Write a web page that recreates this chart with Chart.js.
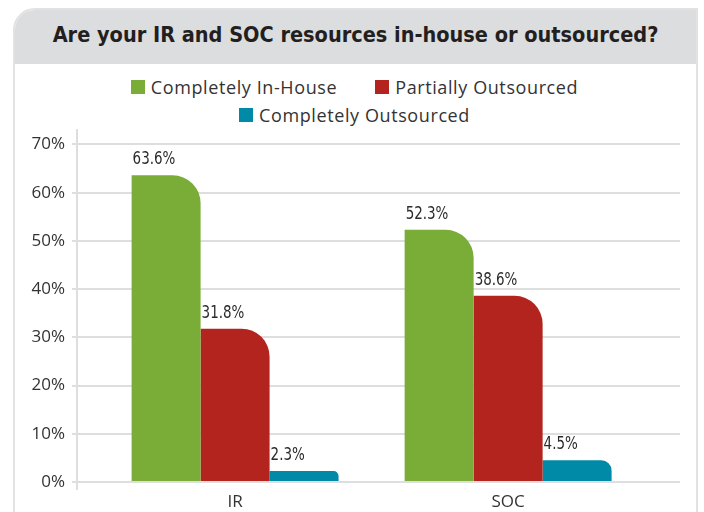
<!DOCTYPE html>
<html>
<head>
<meta charset="utf-8">
<script src="https://cdn.jsdelivr.net/npm/chart.js@4/dist/chart.umd.min.js"></script>
<style>
  html, body { margin: 0; padding: 0; background: #ffffff; }
  body { width: 704px; height: 512px; position: relative; overflow: hidden; }
  .card {
    position: absolute; left: 13px; top: 8px; width: 681px; height: 540px;
    border: 2px solid #e2e2e2; border-top-left-radius: 22px; background: #fff;
    overflow: hidden;
  }
  .card-title {
    height: 54px; background: #dcdddf; color: #231f20;
    font-family: "Liberation Sans Narrow", "DejaVu Sans Condensed", sans-serif;
    font-weight: bold; font-size: 21.5px; line-height: 50px; text-align: center;
    white-space: nowrap;
  }
  #legend { position: absolute; left: 14px; top: 73px; width: 681px; }
  .lg-row { display: flex; justify-content: center; align-items: center; height: 28px; }
  .lg-item { display: flex; align-items: center; margin: 0 19px; }
  .lg-box { width: 14px; height: 14px; margin-right: 6px; }
  .lg-text { font-family: "Open Sans", sans-serif; font-size: 18px; letter-spacing: 0.6px; color: #333; white-space: nowrap; }
  #chart { position: absolute; left: 14px; top: 125px; }
</style>
</head>
<body>
<div class="card"><div class="card-title">Are your IR and SOC resources in-house or outsourced?</div></div>
<div id="legend"></div>
<canvas id="chart" width="681" height="387"></canvas>
<script>
// Survey answers, percent of respondents
const categories = ['IR', 'SOC'];
const seriesNames = ['Completely In-House', 'Partially Outsourced', 'Completely Outsourced'];
const inHouse = [63.6, 52.3];
const partially = [31.8, 38.6];
const outsourced = [2.3, 4.5];
const seriesColors = ['#7aad37', '#b3241f', '#008aa8'];
const yTicks = [0, 10, 20, 30, 40, 50, 60, 70];
const legendRows = [[0, 1], [2]];

const seriesValues = [inHouse, partially, outsourced];
const datasets = seriesNames.map((name, i) => ({
  label: name,
  data: seriesValues[i],
  backgroundColor: seriesColors[i],
  borderWidth: 0,
  borderRadius: { topLeft: 0, topRight: 28, bottomLeft: 0, bottomRight: 0 },
  borderSkipped: 'start',
  categoryPercentage: 0.758,
  barPercentage: 1.0
}));

// Legend drawn as HTML, in two centred rows
const legendEl = document.getElementById('legend');
legendRows.forEach(row => {
  const r = document.createElement('div');
  r.className = 'lg-row';
  row.forEach(i => {
    const it = document.createElement('div');
    it.className = 'lg-item';
    const b = document.createElement('span');
    b.className = 'lg-box';
    b.style.background = seriesColors[i];
    const t = document.createElement('span');
    t.className = 'lg-text';
    t.textContent = seriesNames[i];
    it.appendChild(b); it.appendChild(t);
    r.appendChild(it);
  });
  legendEl.appendChild(r);
});

// Value labels above each bar, left-aligned with the bar, in a narrow face
const valueLabels = {
  id: 'valueLabels',
  afterDatasetsDraw(chart) {
    const ctx = chart.ctx;
    chart.data.datasets.forEach((ds, di) => {
      chart.getDatasetMeta(di).data.forEach((bar, j) => {
        const v = ds.data[j];
        ctx.save();
        ctx.font = '17px "Liberation Sans Narrow", "DejaVu Sans Condensed", sans-serif';
        ctx.fillStyle = '#2b2b2b';
        ctx.textAlign = 'left';
        ctx.textBaseline = 'alphabetic';
        ctx.translate(bar.x - bar.width / 2 + 1, bar.y - 11);
        ctx.scale(0.88, 1);
        ctx.fillText(v.toFixed(1) + '%', 0, 0);
        ctx.restore();
      });
    });
  }
};

// Short continuation of the value axis line below the baseline
const axisFoot = {
  id: 'axisFoot',
  afterDraw(chart) {
    const y = chart.scales.y;
    const ctx = chart.ctx;
    ctx.save();
    ctx.strokeStyle = '#dedede';
    ctx.lineWidth = 2;
    ctx.beginPath();
    ctx.moveTo(y.right, chart.chartArea.bottom);
    ctx.lineTo(y.right, chart.chartArea.bottom + 8);
    ctx.stroke();
    ctx.restore();
  }
};

new Chart(document.getElementById('chart'), {
  type: 'bar',
  data: { labels: categories, datasets },
  plugins: [valueLabels, axisFoot],
  options: {
    responsive: false,
    devicePixelRatio: 1,
    animation: false,
    layout: { padding: { top: 5, right: 15, left: 0, bottom: 0 } },
    plugins: { legend: { display: false }, tooltip: { enabled: false }, title: { display: false } },
    scales: {
      x: {
        grid: { display: false, drawTicks: false },
        border: { display: false },
        ticks: { color: '#333', font: { family: '"Open Sans", sans-serif', size: 17 }, padding: 10 },
        afterBuildTicks(scale) {
          // groups sit a little inward from the plot edges
          scale._startValue = -0.579;
          scale._valueRange = 2.2085;
        },
        afterFit(scale) { scale.height = 30; }
      },
      y: {
        min: 0,
        max: 73,
        afterBuildTicks(scale) { scale.ticks = yTicks.map(v => ({ value: v })); },
        ticks: {
          color: '#333',
          font: { family: '"Open Sans", sans-serif', size: 17 },
          padding: 7,
          callback: v => v + '%'
        },
        grid: { color: '#dedede', lineWidth: 2, tickLength: 5, drawTicks: true },
        border: { display: true, color: '#dedede', width: 2 },
        afterFit(scale) {
          scale.width = 63;
          scale.paddingTop = 0;
          scale.paddingBottom = 0;
        }
      }
    }
  }
});
</script>
</body>
</html>
